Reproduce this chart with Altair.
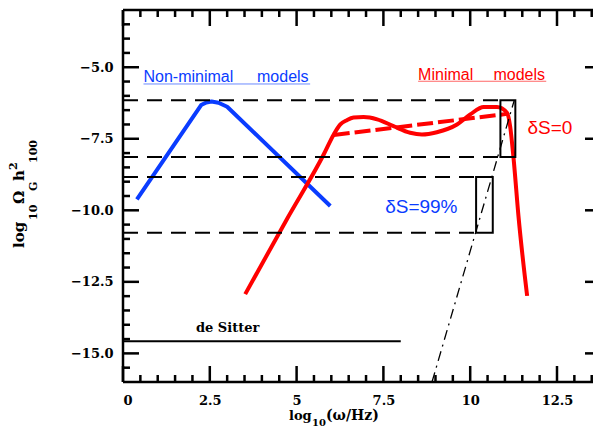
import altair as alt
import pandas as pd

# ---------------- data ----------------
x_major = [0, 2.5, 5, 7.5, 10, 12.5]
x_minor = [0.5, 1, 1.5, 2, 3, 3.5, 4, 4.5, 5.5, 6, 6.5, 7, 8, 8.5, 9, 9.5,
           10.5, 11, 11.5, 12, 13, 13.5]
y_major = [-5.0, -7.5, -10.0, -12.5, -15.0]
y_minor = [-3.5, -4, -4.5, -5.5, -6, -6.5, -7, -8, -8.5, -9, -9.5, -10.5,
           -11, -11.5, -12, -13, -13.5, -14, -14.5, -15.5]

blue_x = [0.40, 2.25, 2.40, 2.55, 2.75, 3.00, 5.97]
blue_y = [-9.62, -6.32, -6.23, -6.20, -6.24, -6.38, -9.85]

red_x = [3.52, 4.72, 5.78, 6.07, 6.26, 6.45, 6.64, 6.93, 7.32, 7.79, 8.27,
         8.61, 9.04, 9.62, 10.0, 10.39, 10.77, 11.06, 11.15, 11.25, 11.39, 11.64]
red_y = [-12.93, -10.31, -8.05, -7.35, -7.00, -6.85, -6.76, -6.74, -6.82,
         -7.06, -7.29, -7.35, -7.27, -7.00, -6.65, -6.39, -6.39, -6.59,
         -7.06, -8.20, -10.20, -12.99]

red_dash_x = [6.07, 11.06]
red_dash_y = [-7.37, -6.63]

hline_y = [-6.15, -8.14, -8.84, -10.78]
hline_xend = [10.87, 10.87, 10.17, 10.17]

box_x1 = [10.87, 10.17]
box_x2 = [11.30, 10.65]
box_y1 = [-6.15, -8.84]
box_y2 = [-8.14, -10.78]

dashdot_x = [8.90, 11.27]
dashdot_y = [-16.0, -6.15]

desitter_x = [0, 8.0]
desitter_y = [-14.58, -14.58]

BLUE = "#0a3cff"
RED = "#ff0000"

# plot area: 470 px wide is what fits in the page; the reference frame
# continues (to x = 14) past the right edge of the window
W, H = 470, 372
PX_PER_UNIT = 34.72
XMAX = W / PX_PER_UNIT

xs = alt.Scale(domain=[0, XMAX], nice=False, zero=False)
ys = alt.Scale(domain=[-16, -3], nice=False, zero=False)
x_axis = alt.Axis(values=x_major, labelExpr="'' + datum.value", title=None, labelPadding=12)
y_axis = alt.Axis(values=y_major, format=".1f", title=None, labelPadding=10)


def X(f):
    return alt.X(f, type="quantitative", scale=xs, axis=x_axis)


def Y(f):
    return alt.Y(f, type="quantitative", scale=ys, axis=y_axis)


one = pd.DataFrame({"a": [0]})
layers = []

# curves
layers.append(alt.Chart(pd.DataFrame({"x": blue_x, "y": blue_y}))
              .mark_line(color=BLUE, strokeWidth=4, strokeJoin="round")
              .encode(x=X("x"), y=Y("y")))
layers.append(alt.Chart(pd.DataFrame({"x": red_x, "y": red_y}))
              .mark_line(color=RED, strokeWidth=4, interpolate="monotone")
              .encode(x=X("x"), y=Y("y")))
layers.append(alt.Chart(pd.DataFrame({"x": red_dash_x, "y": red_dash_y}))
              .mark_line(color=RED, strokeWidth=4, strokeDash=[16, 5])
              .encode(x=X("x"), y=Y("y")))

# dashed horizontal levels
layers.append(alt.Chart(pd.DataFrame({"y": hline_y, "x0": [0] * 4, "x1": hline_xend}))
              .mark_rule(color="black", strokeWidth=2, strokeDash=[15, 9])
              .encode(x=X("x0"), x2="x1", y=Y("y")))

# boxes
layers.append(alt.Chart(pd.DataFrame({"x1": box_x1, "x2": box_x2, "y1": box_y1, "y2": box_y2}))
              .mark_rect(fill=None, stroke="black", strokeWidth=2)
              .encode(x=X("x1"), x2="x2", y=Y("y1"), y2="y2"))

# dash-dot
layers.append(alt.Chart(pd.DataFrame({"x": dashdot_x, "y": dashdot_y}))
              .mark_line(color="black", strokeWidth=1.3, strokeDash=[10, 5, 2, 5])
              .encode(x=X("x"), y=Y("y")))

# de Sitter
layers.append(alt.Chart(pd.DataFrame({"x": desitter_x, "y": desitter_y}))
              .mark_line(color="black", strokeWidth=2)
              .encode(x=X("x"), y=Y("y")))

# ticks (inward)
for vals, ln in ((x_major, 16), (x_minor, 7)):
    d = pd.DataFrame({"v": vals})
    layers.append(alt.Chart(d).mark_rule(color="black", strokeWidth=2.5)
                  .encode(x=X("v"), y=alt.value(H), y2=alt.value(H - ln)))
    layers.append(alt.Chart(d).mark_rule(color="black", strokeWidth=2.5)
                  .encode(x=X("v"), y=alt.value(0), y2=alt.value(ln)))
for vals, ln in ((y_major, 16), (y_minor, 7)):
    d = pd.DataFrame({"v": vals})
    layers.append(alt.Chart(d).mark_rule(color="black", strokeWidth=2.5)
                  .encode(y=Y("v"), x=alt.value(0), x2=alt.value(ln)))
# right-hand frame is off-window: only the tips of its major ticks show
layers.append(alt.Chart(pd.DataFrame({"v": y_major})).mark_rule(color="black", strokeWidth=2.5)
              .encode(y=Y("v"), x=alt.value(W), x2=alt.value(W - 8)))

# frame
layers.append(alt.Chart(one).mark_rule(color="black", strokeWidth=2.5)
              .encode(x=alt.value(0), x2=alt.value(W), y=alt.value(0)))
layers.append(alt.Chart(one).mark_rule(color="black", strokeWidth=2.5)
              .encode(x=alt.value(0), x2=alt.value(W), y=alt.value(H)))
layers.append(alt.Chart(one).mark_rule(color="black", strokeWidth=2.5)
              .encode(x=alt.value(0), y=alt.value(0), y2=alt.value(H)))


# annotations
def txt(texts, xv, yv, color, size, font="Liberation Sans", weight="normal"):
    return (alt.Chart(pd.DataFrame({"t": texts, "x": xv, "y": yv}))
            .mark_text(align="left", baseline="alphabetic", color=color,
                       fontSize=size, font=font, fontWeight=weight)
            .encode(x=X("x"), y=Y("y"), text="t:N"))


layers.append(txt(["Non-minimal", "models"], [0.59, 3.86], [-5.50, -5.50], BLUE, 16))
layers.append(txt(["Minimal", "models"], [8.50, 10.67], [-5.43, -5.43], RED, 16))
layers.append(txt(["δS=0"], [11.65], [-7.35], RED, 19))
layers.append(txt(["δS=99%"], [7.55], [-10.10], BLUE, 19))
layers.append(txt(["de Sitter"], [2.10], [-14.26], "black", 13, "DejaVu Serif", "bold"))

# underlines
layers.append(alt.Chart(pd.DataFrame({"x0": [0.59], "x1": [5.39], "y": [-5.585]}))
              .mark_rule(color=BLUE, strokeWidth=1, opacity=0.6)
              .encode(x=X("x0"), x2="x1", y=Y("y")))
layers.append(alt.Chart(pd.DataFrame({"x0": [8.50], "x1": [12.19], "y": [-5.49]}))
              .mark_rule(color=RED, strokeWidth=1, opacity=0.6)
              .encode(x=X("x0"), x2="x1", y=Y("y")))

# axis titles built from pieces (sub/superscripts)
TF = "DejaVu Serif"


def piece(t, px, py, size, angle=0):
    return (alt.Chart(one)
            .mark_text(text=t, align="left", baseline="alphabetic", font=TF,
                       fontWeight="bold", fontSize=size, angle=angle, color="black")
            .encode(x=alt.value(px), y=alt.value(py)))


layers += [
    piece("log", 166, 410, 13),
    piece("10", 189, 416, 10),
    piece("(ω/Hz)", 203, 410, 14),
    piece("log", -99, 238, 15, 270),
    piece("10", -86, 210, 11, 270),
    piece("Ω", -99, 194, 15, 270),
    piece("G", -86, 181, 11, 270),
    piece("h", -99, 171, 15, 270),
    piece("2", -106, 160, 11, 270),
    piece("100", -86, 153, 11, 270),
]

chart = (alt.layer(*layers)
         .properties(width=W, height=H,
                     autosize=alt.AutoSizeParams(type="none"),
                     padding={"left": 115, "top": 2, "right": 0, "bottom": 48})
         .configure_view(stroke=None)
         .configure_axis(ticks=False, tickSize=0, domain=False, grid=False,
                         labelFont="DejaVu Serif", labelFontWeight="bold",
                         labelFontSize=13, labelColor="black"))

chart.save("out.html", embed_options={"renderer": "svg", "actions": False})
